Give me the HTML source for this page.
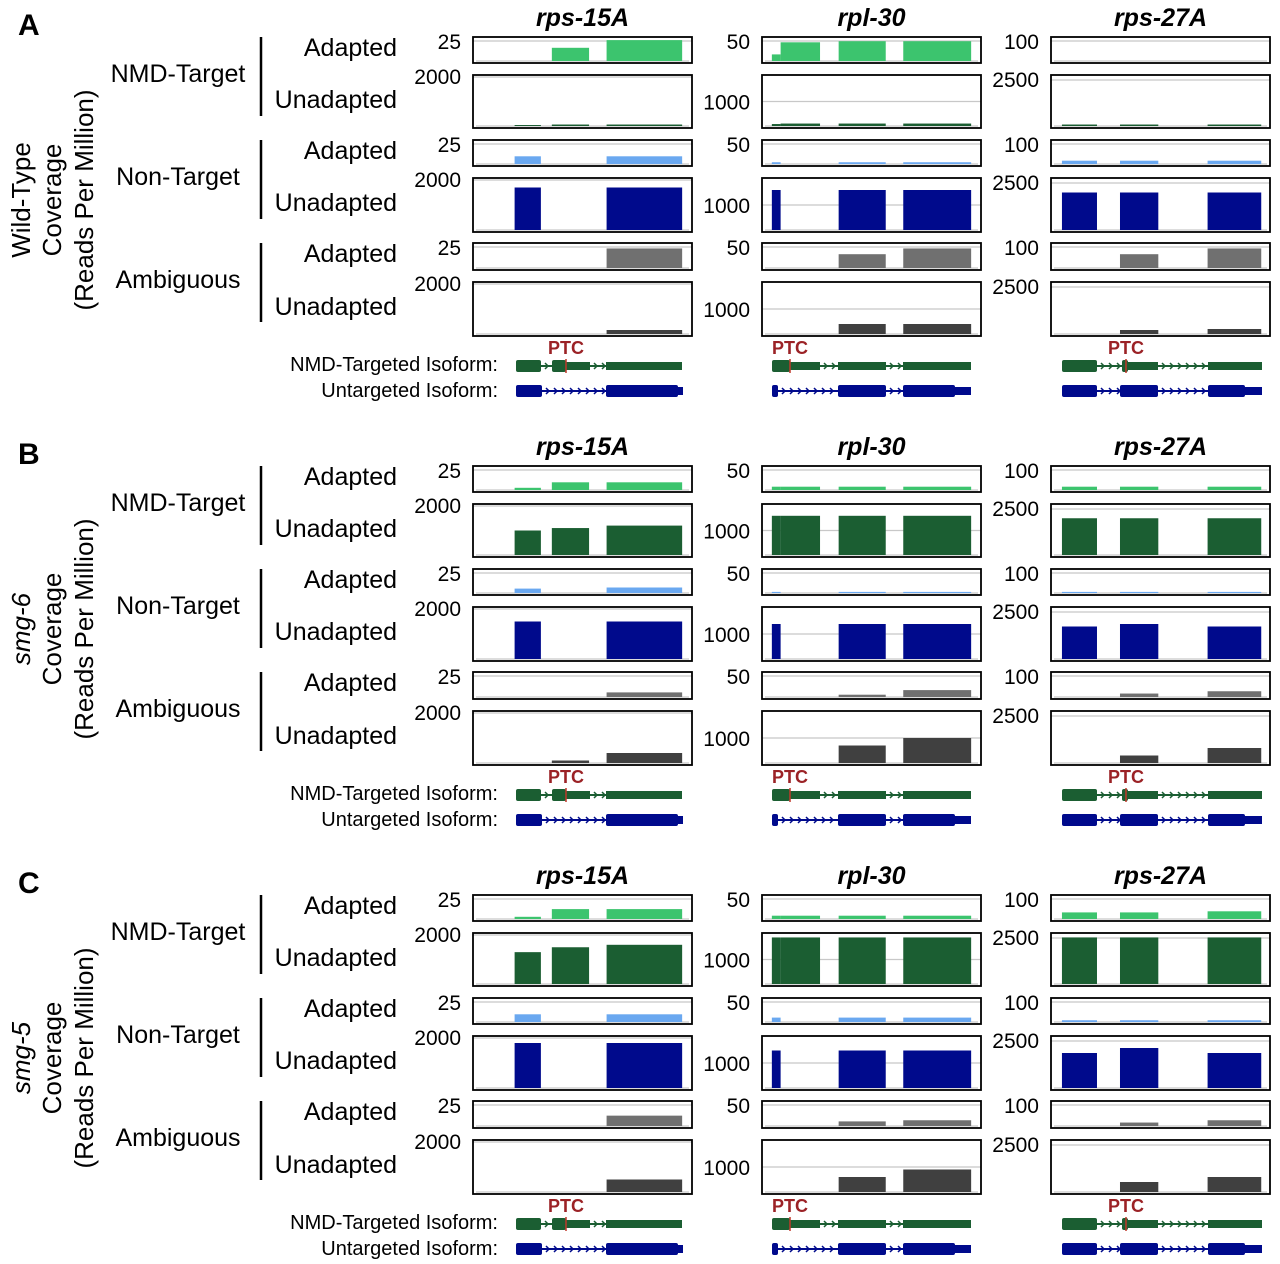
<!DOCTYPE html>
<html><head><meta charset="utf-8"><style>
body{margin:0;background:#fff}
svg{display:block;font-family:"Liberation Sans",sans-serif}
</style></head><body>
<svg id="fig" width="1280" height="1264" viewBox="0 0 1280 1264" xmlns="http://www.w3.org/2000/svg"></svg>
<script>
// ---- data ----
const panels = ["A","B","C"];
const panelTitles = ["Wild-Type","smg-6","smg-5"];
const genes = ["rps-15A","rpl-30","rps-27A"];
const groups = ["NMD-Target","Non-Target","Ambiguous"];
const conditions = ["Adapted","Unadapted"];
const adaptedMax = ["25","50","100"];
const unadaptedTick = ["2000","1000","2500"];
// exon blocks (fraction of gene window)
const exons0 = [[0.19,0.31],[0.36,0.53],[0.61,0.955]];
const exons1 = [[0.045,0.085],[0.085,0.265],[0.35,0.565],[0.645,0.955]];
const exons2 = [[0.05,0.21],[0.315,0.49],[0.715,0.96]];
// heights (fraction of track max) per panel -> gene -> track(6)
const covA = [
 [[0,0.6,0.95],[0.02,0.03,0.03],[0.35,0,0.35],[0.85,0,0.85],[0,0,0.85],[0,0,0.08]],
 [[0.3,0.85,0.9,0.9],[0.04,0.05,0.05,0.05],[0.08,0,0.08,0.08],[0.8,0,0.8,0.8],[0,0,0.6,0.85],[0,0,0.2,0.2]],
 [[0,0,0],[0.03,0.03,0.03],[0.15,0.15,0.15],[0.75,0.75,0.75],[0,0.6,0.85],[0,0.08,0.1]]];
const covB = [
 [[0.1,0.35,0.35],[0.5,0.55,0.6],[0.2,0,0.25],[0.75,0,0.75],[0,0,0.2],[0,0.05,0.2]],
 [[0.15,0.15,0.15,0.15],[0.8,0.8,0.8,0.8],[0.05,0,0.05,0.05],[0.7,0,0.7,0.7],[0,0,0.1,0.3],[0,0,0.35,0.5]],
 [[0.15,0.15,0.15],[0.75,0.75,0.75],[0.05,0.05,0.05],[0.65,0.7,0.65],[0,0.15,0.25],[0,0.15,0.3]]];
const covC = [
 [[0.1,0.45,0.45],[0.65,0.75,0.8],[0.35,0,0.35],[0.9,0,0.9],[0,0,0.45],[0,0,0.25]],
 [[0.15,0.15,0.15,0.15],[0.95,0.95,0.95,0.95],[0.2,0,0.2,0.2],[0.75,0,0.75,0.75],[0,0,0.2,0.25],[0,0,0.3,0.45]],
 [[0.3,0.3,0.35],[0.95,0.95,0.95],[0.08,0.08,0.08],[0.7,0.8,0.7],[0,0.15,0.25],[0,0.2,0.3]]];
const coverage = [covA,covB,covC];
const exonSets = [exons0,exons1,exons2];

// ---- layout ----
const svg = document.getElementById('fig');
const NS = "http://www.w3.org/2000/svg";
function el(tag, attrs, parent){const e=document.createElementNS(NS,tag);for(const k in attrs)e.setAttribute(k,attrs[k]);(parent||svg).appendChild(e);return e;}
function txt(s, attrs, parent){const e=el('text',attrs,parent);e.textContent=s;return e;}
const colX=[473,762,1051], colW=219;
const trackY=[37,75,140,178,243,282], trackH=[26,53,26,54,27,54];
const colors=["#3cc46e","#1b5e32","#6aa8f0","#000a8c","#707070","#404040"];
const panelOff=[0,429,858];

const nmdModel=[
 [[516,541,'T'],[541,552,'C'],[552,566,'T'],[566,590,'M'],[590,606,'C'],[606,682,'M']],
 [[772,790,'T'],[790,820,'M'],[820,838,'C'],[838,886,'M'],[886,903,'C'],[903,971,'M']],
 [[1062,1097,'T'],[1097,1122,'C'],[1122,1128,'T'],[1128,1158,'M'],[1158,1208,'C'],[1208,1262,'M']]];
const untModel=[
 [[516,542,'T'],[542,606,'C'],[606,678,'T'],[678,683,'M']],
 [[772,778,'T'],[778,838,'C'],[838,886,'T'],[886,903,'C'],[903,955,'T'],[955,971,'M']],
 [[1062,1097,'T'],[1097,1120,'C'],[1120,1158,'T'],[1158,1208,'C'],[1208,1245,'T'],[1245,1262,'M']]];
const ptcX=[566,790,1126];

function drawModel(g, segs, y, color){
  segs.forEach(s=>{
    const [a,b,t]=s;
    if(t==='T'){const r=el('rect',{x:a,y:y-6,width:b-a,height:12,fill:color,rx:2},g);}
    else if(t==='M'){const r=el('rect',{x:a,y:y-4,width:b-a,height:8,fill:color},g);}
    else{
      el('line',{x1:a,y1:y,x2:b,y2:y,stroke:color,'stroke-width':2},g);
      for(let cx=a+4;cx<b-2;cx+=8){el('path',{d:`M${cx},${y-3} L${cx+3},${y} L${cx},${y+3}`,stroke:color,fill:'none','stroke-width':1.5},g);}
    }
  });
}

panels.forEach((P,pi)=>{
  const o=panelOff[pi];
  const pg=el('g',{});
  
  
  const lt=txt(P,{x:18,y:o+35,'font-size':30,'font-weight':'bold'},pg);
  
  const yt=el('text',{transform:`translate(0,${o+200}) rotate(-90)`,'font-size':26,'text-anchor':'middle'},pg);
  
  [[panelTitles[pi],30,pi>0],["Coverage",61,false],["(Reads Per Million)",93,false]].forEach(([s,x,it])=>{
    const ts=el('tspan',{x:0},yt);ts.setAttribute('y',x);ts.textContent=s;if(it)ts.setAttribute('font-style','italic');
  });
  groups.forEach((gname,gi)=>{
    const y0=o+trackY[gi*2];
    const gl=txt(gname,{x:178,y:y0+45,'font-size':25,'text-anchor':'middle'},pg);
    
    const br=el('line',{x1:261,y1:y0,x2:261,y2:y0+79,stroke:'#000','stroke-width':2.5},pg);
    
    conditions.forEach((c,ci)=>{
      const ty=o+trackY[gi*2+ci]+(ci===0?19:33);
      const cl=txt(c,{x:397,y:ty,'font-size':25,'text-anchor':'end'},pg);
      
    });
  });
  genes.forEach((gn,gi)=>{
    const x0=colX[gi];
    const gt=txt(gn,{x:x0+colW/2,y:o+26,'font-size':25,'font-weight':'bold','font-style':'italic','text-anchor':'middle'},pg);
    
    for(let t=0;t<6;t++){
      const y=o+trackY[t], h=trackH[t];
      const tg=el('g',{},pg);
      
      let gy = (t%2===0)? y+4 : (gi===1? y+h/2 : y+ (gi===0?2:5));
      el('line',{x1:x0,y1:gy,x2:x0+colW,y2:gy,stroke:'#c8c8c8','stroke-width':1.2},tg);
      el('line',{x1:x0+3,y1:y+h-2,x2:x0+colW-3,y2:y+h-2,stroke:'#bbb','stroke-width':1},tg);
      const ex=exonSets[gi], hv=coverage[pi][gi][t];
      ex.forEach((e,ei)=>{
        const v=hv[ei]; if(v<=0) return;
        const bh=v*(h-4);
        const r=el('rect',{x:x0+e[0]*colW,y:y+h-2-bh,width:(e[1]-e[0])*colW,height:bh,fill:colors[t]},tg);
        
      });
      el('rect',{x:x0,y:y,width:colW,height:h,fill:'none',stroke:'#000','stroke-width':1.8},tg);
      let lab, ly;
      if(t%2===0){lab=adaptedMax[gi];ly=y+12;}
      else{lab=unadaptedTick[gi];ly=gi===1? y+h/2+8 : y+ (gi===0?9:12);}
      const tl=txt(lab,{x:x0-12,y:ly,'font-size':21,'text-anchor':'end'},tg);
      
    }
    const mg=el('g',{},pg);
    
    drawModel(mg,nmdModel[gi],o+366,'#1b5e32');
    drawModel(mg,untModel[gi],o+391,'#000a8c');
    el('line',{x1:ptcX[gi],y1:o+359,x2:ptcX[gi],y2:o+373,stroke:'#c0392b','stroke-width':1.5},mg);
    const pt=txt('PTC',{x:ptcX[gi],y:o+354,'font-size':18,'font-weight':'bold',fill:'#9b2226','text-anchor':'middle'},mg);
    
  });
  const l1=txt('NMD-Targeted Isoform:',{x:498,y:o+371,'font-size':20,'text-anchor':'end'},pg);
  
  const l2=txt('Untargeted Isoform:',{x:498,y:o+397,'font-size':20,'text-anchor':'end'},pg);
  
});
</script>
</body></html>
